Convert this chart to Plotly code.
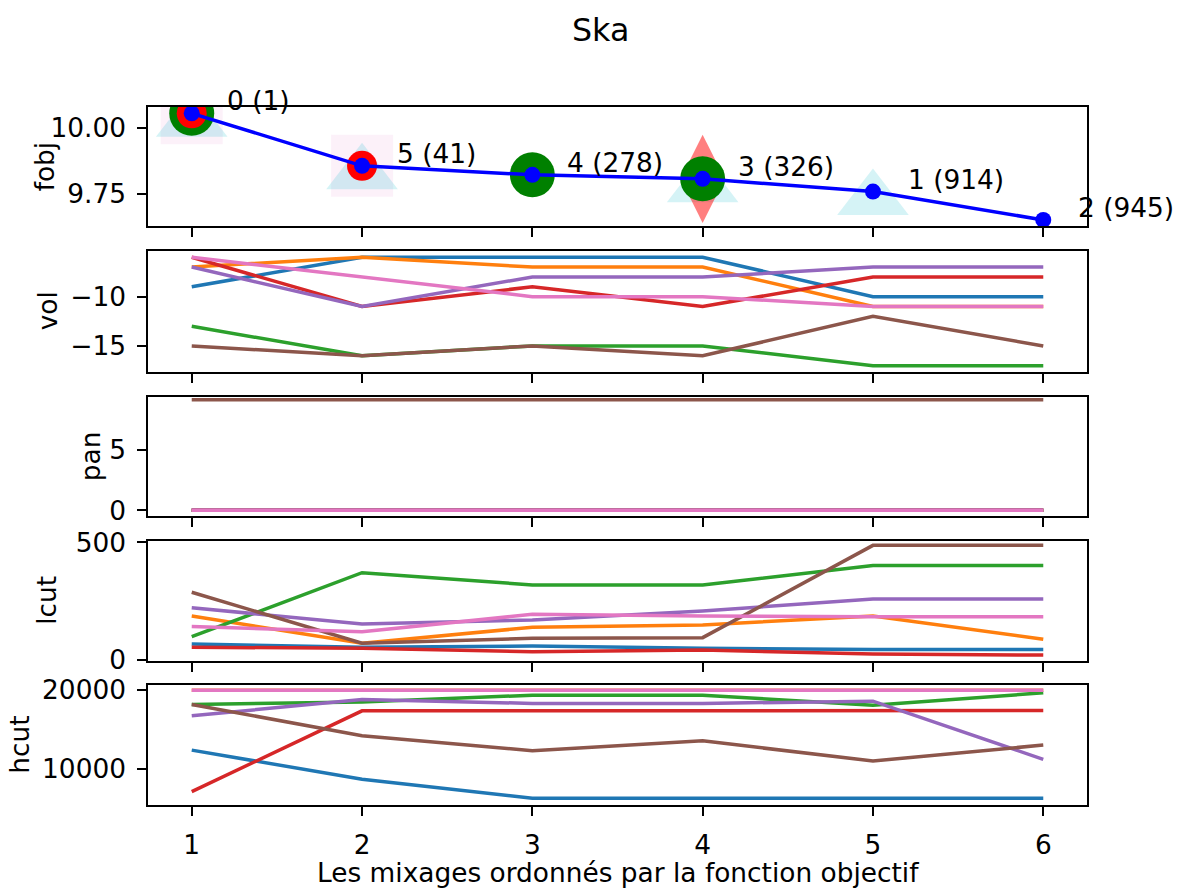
import plotly.graph_objects as go

# ---------------- data ----------------
x_vals = [1, 2, 3, 4, 5, 6]
fobj = [10.054, 9.856, 9.822, 9.807, 9.759, 9.652]
point_labels = ["0 (1)", "5 (41)", "4 (278)", "3 (326)", "1 (914)", "2 (945)"]

# which points carry which highlight marker
tri_x = [1, 2, 4, 5]
square_x = [1, 2]
diamond_x = [4]
green_x = [1, 3, 4]
red_x = [1, 2]

series_colors = ["#1f77b4", "#ff7f0e", "#2ca02c", "#d62728", "#9467bd", "#8c564b", "#e377c2"]

vol = [
    [-9, -6, -6, -6, -10, -10],
    [-7, -6, -7, -7, -11, -11],
    [-13, -16, -15, -15, -17, -17],
    [-6, -11, -9, -11, -8, -8],
    [-7, -11, -8, -8, -7, -7],
    [-15, -16, -15, -16, -12, -15],
    [-6, -8, -10, -10, -11, -11],
]
pan = [
    [0, 0, 0, 0, 0, 0],
    [0, 0, 0, 0, 0, 0],
    [0, 0, 0, 0, 0, 0],
    [0, 0, 0, 0, 0, 0],
    [0, 0, 0, 0, 0, 0],
    [9.2, 9.2, 9.2, 9.2, 9.2, 9.2],
    [0, 0, 0, 0, 0, 0],
]
lcut = [
    [68, 54, 59, 50, 45, 45],
    [187, 71, 139, 149, 187, 88],
    [99, 371, 319, 319, 401, 401],
    [54, 50, 35, 42, 25, 21],
    [222, 153, 170, 208, 259, 259],
    [288, 71, 92, 95, 487, 487],
    [142, 120, 194, 187, 184, 184],
]
hcut = [
    [12400, 8700, 6290, 6290, 6290, 6290],
    [20000, 20000, 20000, 20000, 20000, 20000],
    [18190, 18500, 19370, 19370, 18100, 19660],
    [7130, 17380, 17380, 17380, 17430, 17430],
    [16750, 18820, 18320, 18320, 18610, 11230],
    [18190, 14220, 12320, 13580, 11010, 13040],
    [20000, 20000, 20000, 20000, 20000, 20000],
]

panel_names = ["fobj", "vol", "pan", "lcut", "hcut"]
panel_ranges = [[9.629, 10.079], [-17.61, -5.37], [-0.47, 9.47], [-3, 505.5], [5440, 20720]]
panel_ticks = [[9.75, 10.0], [-15, -10], [0, 5], [0, 500], [10000, 20000]]
panel_tickfmt = [".2f", "d", "d", "d", "d"]
ylabel_x_px = [44, 47, 90, 47, 20]

W, H = 1181, 893
FONT = "DejaVu Sans"
FS = 26.4

# panel geometry (pixels)
left_px, right_px = 148.3, 1086.7
panel_px = [(106.7, 226.0), (251.0, 371.7), (396.5, 516.0), (541.0, 660.7), (684.5, 805.0)]

fig = go.Figure()

# ---------------- panel 1: fobj ----------------
def sel(xs):
    return [fobj[x_vals.index(v)] for v in xs]

fig.add_trace(go.Scatter(x=square_x, y=sel(square_x), mode="markers",
                         marker=dict(symbol="square", size=62, color="rgba(227,119,194,0.1)", line=dict(width=0)),
                         xaxis="x", yaxis="y", showlegend=False))
fig.add_trace(go.Scatter(x=tri_x, y=sel(tri_x), mode="markers",
                         marker=dict(symbol="triangle-up", size=62, standoff=8,
                                     color="rgba(23,190,207,0.18)", line=dict(width=0)),
                         xaxis="x", yaxis="y", showlegend=False))
fig.add_trace(go.Scatter(x=diamond_x, y=sel(diamond_x), mode="markers",
                         marker=dict(symbol="diamond-tall", size=63, color="rgba(255,0,0,0.5)", line=dict(width=0)),
                         xaxis="x", yaxis="y", showlegend=False))
fig.add_trace(go.Scatter(x=green_x, y=sel(green_x), mode="markers",
                         marker=dict(symbol="circle", size=45, color="green", line=dict(width=0)),
                         xaxis="x", yaxis="y", showlegend=False))
fig.add_trace(go.Scatter(x=red_x, y=sel(red_x), mode="markers",
                         marker=dict(symbol="circle", size=30, color="red", line=dict(width=0)),
                         xaxis="x", yaxis="y", showlegend=False))
fig.add_trace(go.Scatter(x=x_vals, y=fobj, mode="lines+markers",
                         line=dict(color="blue", width=3.5),
                         marker=dict(symbol="circle", size=16, color="blue", line=dict(width=0)),
                         xaxis="x", yaxis="y", showlegend=False))

for xv, yv, lab in zip(x_vals, fobj, point_labels):
    fig.add_annotation(x=xv, y=yv, xref="x", yref="y", text=lab, showarrow=False,
                       xanchor="left", yanchor="bottom", xshift=33, yshift=-5,
                       font=dict(family=FONT, size=FS, color="black"))

# ---------------- other panels ----------------
for k, data in enumerate([vol, pan, lcut, hcut], start=2):
    for s, col in zip(data, series_colors):
        fig.add_trace(go.Scatter(x=x_vals, y=s, mode="lines",
                                 line=dict(color=col, width=3.5),
                                 xaxis=f"x{k}", yaxis=f"y{k}", showlegend=False))

# ---------------- axes ----------------
layout = {}
for i in range(5):
    top, bot = panel_px[i]
    suffix = "" if i == 0 else str(i + 1)
    layout[f"xaxis{suffix}"] = dict(
        domain=[left_px / W, right_px / W], range=[0.745, 6.255], automargin=False,
        anchor=f"y{suffix}", tickmode="array", tickvals=x_vals,
        showticklabels=(i == 4), ticks="outside", ticklen=9, tickwidth=2, tickcolor="black",
        showline=True, mirror=True, linecolor="black", linewidth=2,
        showgrid=False, zeroline=False,
        tickfont=dict(family=FONT, size=FS, color="black"), ticklabelstandoff=6,
    )
    layout[f"yaxis{suffix}"] = dict(
        domain=[(H - bot) / H, (H - top) / H], range=panel_ranges[i], automargin=False,
        anchor=f"x{suffix}", tickmode="array", tickvals=panel_ticks[i], tickformat=panel_tickfmt[i],
        ticks="outside", ticklen=9, tickwidth=2, tickcolor="black",
        showline=True, mirror=True, linecolor="black", linewidth=2,
        showgrid=False, zeroline=False,
        tickfont=dict(family=FONT, size=FS, color="black"), ticklabelstandoff=6,
    )
    fig.add_annotation(x=ylabel_x_px[i] / W, y=(H - (top + bot) / 2) / H, xref="paper", yref="paper",
                       text=panel_names[i], textangle=-90, showarrow=False,
                       xanchor="center", yanchor="middle",
                       font=dict(family=FONT, size=FS, color="black"))

fig.add_annotation(x=(left_px + right_px) / 2 / W, y=(H - 872) / H, xref="paper", yref="paper",
                   text="Les mixages ordonnés par la fonction objectif", showarrow=False,
                   xanchor="center", yanchor="middle", font=dict(family=FONT, size=FS, color="black"))
fig.add_annotation(x=600 / W, y=(H - 30) / H, xref="paper", yref="paper",
                   text="Ska", showarrow=False, xanchor="center", yanchor="middle",
                   font=dict(family=FONT, size=31.7, color="black"))

fig.update_layout(
    width=W, height=H, margin=dict(l=0, r=0, t=0, b=0, autoexpand=False),
    paper_bgcolor="white", plot_bgcolor="white",
    font=dict(family=FONT, size=FS, color="black"),
    showlegend=False,
    **layout,
)

fig.write_html("out.html")
